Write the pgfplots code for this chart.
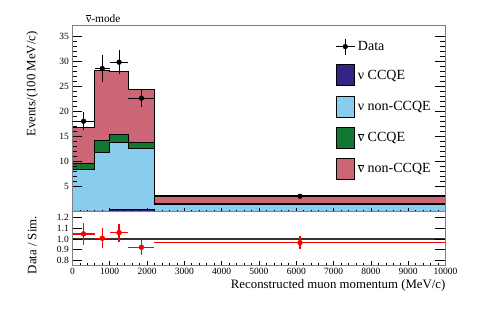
\documentclass[border=0pt]{standalone}
\usepackage{fontspec}
\setmainfont{Liberation Serif}
\usepackage{pgfplots}
\usepackage{pgfplotstable}
\pgfplotsset{compat=1.18}

\definecolor{nuccqe}{HTML}{332288}
\definecolor{nunon}{HTML}{88CCEE}
\definecolor{nbccqe}{HTML}{117733}
\definecolor{nbnon}{HTML}{CC6677}
\definecolor{frame}{HTML}{7F7F7F}
\newcommand{\nubar}{\ensuremath{\overline{\mbox{ν}}}}

% simulated components, events/(100 MeV/c), bin left edges (last row closes the step)
\pgfplotstableread{
x     nuccqe nunon nbccqe nbnon
0     0.15   8.35  1.10   7.30
600   0.15   11.65 2.50   14.00
1000  0.50   13.30 1.70   12.50
1500  0.50   12.20 1.10   10.70
2200  0.05   1.35  0.25   1.50
10000 0.05   1.35  0.25   1.50
}\simtab

\pgfplotstableread{
x    y     ex   ey
300  18.10 300  1.75
800  28.65 200  2.65
1250 29.90 250  2.40
1850 22.70 350  1.70
6100 3.10  3900 0.20
}\datatab

\pgfplotstableread{
x    y     ex   ey
300  1.047 300  0.100
800  1.007 200  0.093
1250 1.059 250  0.085
1850 0.923 350  0.073
6100 0.966 3900 0.062
}\ratiotab

\pgfplotsset{
  rootax/.style={
    scale only axis, width=373.1pt,
    xmin=0, xmax=10000,
    tick align=inside, axis on top,
    xtick={0,1000,...,10000}, minor x tick num=4,
    scaled x ticks=false,
    xtick pos=left,
    major tick length=10pt, minor tick length=5pt,
    xtick style={/pgfplots/major tick length=4pt, /pgfplots/minor tick length=2pt},
    tick style={black, line width=0.6pt},
    ticklabel style={font=\fontsize{9.5}{10}\selectfont},
    /pgf/number format/assume math mode=true,
    /pgf/number format/1000 sep={},
    axis line style={draw=frame, line width=0.9pt},
    label style={font=\fontsize{12.8}{14}\selectfont},
  },
  boxlegend/.style={legend image code/.code={
    \draw[#1, draw=black, line width=0.8pt] (0pt,-10.5pt) rectangle (18.5pt,10.5pt);}},
}

\begin{document}
\begin{tikzpicture}
\path[use as bounding box] (0pt,0pt) rectangle (483pt,-327pt);

% upper panel: stacked simulation
\begin{axis}[rootax,
  at={(72.4pt,-211.7pt)}, anchor=south west, height=186pt,
  ymin=0, ymax=37.2,
  ytick={5,10,...,35}, minor y tick num=4,
  xticklabels={},
  ylabel={Events/(100 MeV/c)},
  ylabel style={at={(axis description cs:-0.1075,0.988)}, anchor=east},
  stack plots=y,
  legend style={draw=none, fill=none, at={(axis description cs:0.705,0.934)},
    anchor=north west, font=\fontsize{14}{16}\selectfont,
    row sep=9.4pt, column sep=2pt, inner sep=0pt, nodes={inner sep=1pt}},
  legend cell align=left,
]
\addlegendimage{legend image code/.code={
  \draw[black, line width=0.8pt] (0pt,0pt) -- (18.5pt,0pt);
  \draw[black, line width=0.8pt] (9.25pt,-8pt) -- (9.25pt,8pt);
  \fill[black] (9.25pt,0pt) circle (2.4pt);}}
\addlegendentry{Data}
\addplot[boxlegend, const plot, fill=nuccqe, draw=black, line width=0.8pt]
  table[x=x, y=nuccqe] {\simtab} \closedcycle;
\addlegendentry{ν CCQE}
\addplot[boxlegend, const plot, fill=nunon, draw=black, line width=0.8pt]
  table[x=x, y=nunon] {\simtab} \closedcycle;
\addlegendentry{ν non-CCQE}
\addplot[boxlegend, const plot, fill=nbccqe, draw=black, line width=0.8pt]
  table[x=x, y=nbccqe] {\simtab} \closedcycle;
\addlegendentry{\nubar{} CCQE}
\addplot[boxlegend, const plot, fill=nbnon, draw=black, line width=1.2pt]
  table[x=x, y=nbnon] {\simtab} \closedcycle;
\addlegendentry{\nubar{} non-CCQE}
\draw[black, line width=0.9pt] (rel axis cs:0,0) -- (rel axis cs:0,1);
\draw[black, line width=0.9pt] (rel axis cs:0,0) -- (rel axis cs:1,0);
\end{axis}

% upper panel: data points
\begin{axis}[scale only axis, width=373.1pt, height=186pt,
  at={(72.4pt,-211.7pt)}, anchor=south west,
  xmin=0, xmax=10000, ymin=0, ymax=37.2, hide axis]
\addplot[only marks, mark=*, mark size=2.4pt, black,
  error bars/.cd, x dir=both, x explicit, y dir=both, y explicit,
  error mark=none, error bar style={line width=0.9pt, black}]
  table[x=x, y=y, x error=ex, y error=ey] {\datatab};
\end{axis}

% lower panel: ratio
\begin{axis}[rootax,
  at={(72.4pt,-265pt)}, anchor=south west, height=53.3pt,
  ymin=0.758, ymax=1.254,
  ytick={0.8,0.9,1.0,1.1,1.2},
  yticklabel style={/pgf/number format/fixed, /pgf/number format/fixed zerofill,
    /pgf/number format/precision=1},
  xlabel={Reconstructed muon momentum (MeV/c)},
  xlabel style={at={(axis description cs:1,-0.375)}, anchor=east, inner sep=0pt},
  ylabel={Data / Sim.},
  ylabel style={at={(axis description cs:-0.1075,0.981)}, anchor=east},
]
\addplot[draw=black!80, line width=1.4pt] coordinates {(0,1) (10000,1)};
\addplot[only marks, mark=*, mark size=2.5pt, red,
  error bars/.cd, x dir=both, x explicit, y dir=both, y explicit,
  error mark=none, error bar style={line width=1.2pt, red}]
  table[x=x, y=y, x error=ex, y error=ey] {\ratiotab};
\draw[black, line width=0.9pt] (rel axis cs:0,0) -- (rel axis cs:0,1);
\draw[black, line width=0.9pt] (rel axis cs:0,0) -- (rel axis cs:1,0);
\end{axis}

\node[anchor=base west, inner sep=0pt, font=\fontsize{11.4}{13}\selectfont]
  at (86pt,-22pt) {\nubar-mode};
\end{tikzpicture}
\end{document}
